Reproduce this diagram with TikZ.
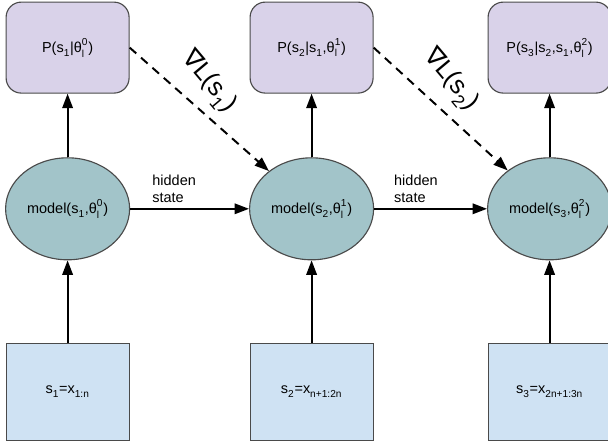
\documentclass[tikz,border=0pt]{standalone}
\usepackage{fontspec}
\setmainfont{Liberation Sans}
\newfontfamily\nablafont{DejaVu Sans}
\usepackage{tikz}
\usetikzlibrary{shapes,arrows.meta}
\definecolor{probfill}{HTML}{D9D2E9}
\definecolor{modelfill}{HTML}{A2C4C9}
\definecolor{segfill}{HTML}{CFE2F3}
\definecolor{edgegray}{HTML}{4A4A4A}
\newcommand{\sbs}[1]{\raisebox{-0.3ex}{\textsubscript{#1}}}
\newcommand{\sps}[1]{\raisebox{0.25ex}{\textsuperscript{#1}}}
\newcommand{\sbsp}[2]{\rlap{\sbs{#1}}\sps{#2}}
\tikzstyle{prob} = [draw=edgegray, fill=probfill, rectangle, rounded corners=0.38cm,
    line width=0.8pt, minimum width=3.075cm, minimum height=2.275cm]
\tikzstyle{model} = [draw=edgegray, fill=modelfill, ellipse, inner sep=0pt,
    line width=0.8pt, minimum width=3.1cm, minimum height=2.55cm]
\tikzstyle{seg} = [draw=edgegray, fill=segfill, rectangle,
    line width=0.8pt, minimum width=3.075cm, minimum height=2.425cm]
\tikzstyle{wire} = [line width=1.4pt]
\tikzstyle{grad} = [line width=1.4pt, dash pattern=on 2.2mm off 1.6mm]
\tikzstyle{gradlabel} = [font=\fontsize{18}{20}\selectfont, rotate=-50]
\begin{document}
\begin{tikzpicture}[>={Triangle[length=3.6mm,width=2.6mm]},
    font=\fontsize{10.3}{12.8}\selectfont]
    \useasboundingbox (0,0) rectangle (15.2,-11.1);
    \node [prob] at (1.69,-1.19) (prob1) {P(s\sbs{1}|θ\sbsp{l}{0})};
    \node [prob] at (7.79,-1.19) (prob2) {P(s\sbs{2}|s\sbs{1},θ\sbsp{l}{1})};
    \node [prob] at (13.74,-1.19) (prob3) {P(s\sbs{3}|s\sbs{2},s\sbs{1},θ\sbsp{l}{2})};
    \node [model] at (1.69,-5.22) (model1) {model(s\sbs{1},θ\sbsp{l}{0})};
    \node [model] at (7.79,-5.22) (model2) {model(s\sbs{2},θ\sbsp{l}{1})};
    \node [model] at (13.74,-5.22) (model3) {model(s\sbs{3},θ\sbsp{l}{2})};
    \node [seg] at (1.69,-9.79) (seg1) {s\sbs{1}=x\sbs{1:n}};
    \node [seg] at (7.79,-9.79) (seg2) {s\sbs{2}=x\sbs{n+1:2n}};
    \node [seg] at (13.74,-9.79) (seg3) {s\sbs{3}=x\sbs{2n+1:3n}};
    % inputs into the models
    \draw [wire,->] (seg1) -- (model1);
    \draw [wire,->] (seg2) -- (model2);
    \draw [wire,->] (seg3) -- (model3);
    % models to outputs
    \draw [wire,->] (model1) -- (prob1);
    \draw [wire,->] (model2) -- (prob2);
    \draw [wire,->] (model3) -- (prob3);
    % hidden state
    \draw [wire,->] (model1) -- node[above, align=left, pos=0.37] {hidden\\state} (model2);
    \draw [wire,->] (model2) -- node[above, align=left, pos=0.37] {hidden\\state} (model3);
    % gradients
    \draw [grad,->] (prob1.east) -- (model2);
    \draw [grad,->] (prob2.east) -- (model3);
    \node [gradlabel] at (5.2,-2.05) (gradlabel1) {{\nablafont ∇}L(s\sbs{1})};
    \node [gradlabel] at (11.25,-2.0) (gradlabel2) {{\nablafont ∇}L(s\sbs{2})};
\end{tikzpicture}
\end{document}
